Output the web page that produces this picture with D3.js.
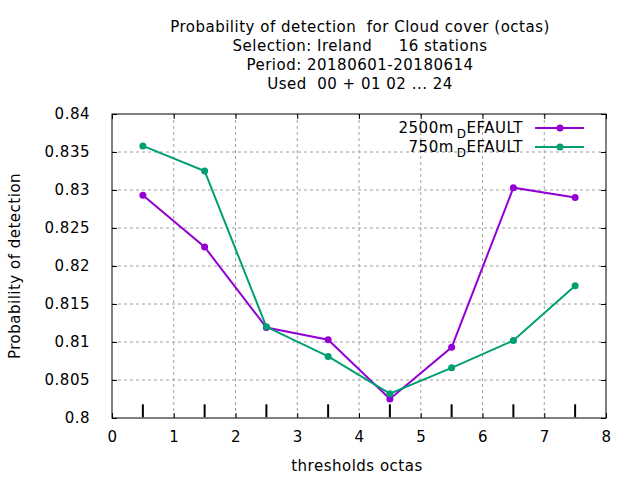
<!DOCTYPE html>
<html>
<head>
<meta charset="utf-8">
<script src="https://cdn.jsdelivr.net/npm/d3@7"></script>
<style>
  body { margin: 0; background: #fff; }
  text { font-family: "DejaVu Sans", sans-serif; font-size: 15px; letter-spacing: 0.5px; fill: #000; white-space: pre; }
</style>
</head>
<body>
<div id="chart"></div>
<script>
// values
var thresholds = [0.5, 1.5, 2.5, 3.5, 4.5, 5.5, 6.5, 7.5];
var pod2500 = [0.8293, 0.8225, 0.8119, 0.8103, 0.8025, 0.8093, 0.8303, 0.8290];
var pod750  = [0.8358, 0.8325, 0.8120, 0.8081, 0.8032, 0.8066, 0.8102, 0.8174];
// short black impulses at the bottom (base, top)
var impulseBase = 0.8001, impulseTop = 0.8018;

var xTicks = [0, 1, 2, 3, 4, 5, 6, 7, 8];
var yTicks = [0.8, 0.805, 0.81, 0.815, 0.82, 0.825, 0.83, 0.835, 0.84];
var titleLines = [
  "Probability of detection  for Cloud cover (octas)",
  "Selection: Ireland     16 stations",
  "Period: 20180601-20180614",
  "Used  00 + 01 02 ... 24"
];
var seriesNames = [["2500m", "D", "EFAULT"], ["750m", "D", "EFAULT"]];
var seriesColors = ["#9400d3", "#009e73"];

var width = 640, height = 480;
var mLeft = 112, mRight = 606, mTop = 114, mBottom = 418;

var x = d3.scaleLinear().domain([0, 8]).range([mLeft, mRight]);
var y = d3.scaleLinear().domain([0.8, 0.84]).range([mBottom, mTop]);

var svg = d3.select("#chart").append("svg")
    .attr("width", width).attr("height", height);

// grid, dotted grey like gnuplot
var grid = svg.append("g").attr("stroke", "#a0a0a0").attr("stroke-width", 1)
    .attr("stroke-dasharray", "3,3");
grid.selectAll("line.gx").data(xTicks.slice(1, -1)).enter().append("line")
    .attr("x1", x).attr("x2", x).attr("y1", mTop).attr("y2", mBottom);
grid.selectAll("line.gy").data(yTicks.slice(1, -1)).enter().append("line")
    .attr("x1", mLeft).attr("x2", mRight).attr("y1", y).attr("y2", y);

// axes with inward ticks, mirrored on the opposite sides
var fmt = function (d) { return String(+d.toFixed(3)); };
svg.append("g").attr("transform", "translate(0," + mBottom + ")")
    .call(d3.axisBottom(x).tickValues(xTicks).tickSize(-5).tickPadding(13).tickFormat(fmt));
svg.append("g").attr("transform", "translate(0," + mTop + ")")
    .call(d3.axisTop(x).tickValues(xTicks).tickSize(-5).tickFormat(""));
svg.append("g").attr("transform", "translate(" + mLeft + ",0)")
    .call(d3.axisLeft(y).tickValues(yTicks).tickSize(-5).tickPadding(22).tickFormat(fmt));
svg.append("g").attr("transform", "translate(" + mRight + ",0)")
    .call(d3.axisRight(y).tickValues(yTicks).tickSize(-5).tickFormat(""));
svg.selectAll(".domain").remove();
svg.selectAll(".tick line").attr("stroke", "#000");
svg.selectAll(".tick text").attr("font-family", null).attr("font-size", null);

// border
svg.append("rect").attr("x", mLeft).attr("y", mTop)
    .attr("width", mRight - mLeft).attr("height", mBottom - mTop)
    .attr("fill", "none").attr("stroke", "#000").attr("stroke-width", 1);

// impulses
svg.append("g").selectAll("line").data(thresholds).enter().append("line")
    .attr("x1", x).attr("x2", x)
    .attr("y1", y(impulseBase)).attr("y2", y(impulseTop))
    .attr("stroke", "#000").attr("stroke-width", 2);

// series
var line = d3.line().x(function (d) { return x(d[0]); }).y(function (d) { return y(d[1]); });
[pod2500, pod750].forEach(function (vals, i) {
  var pts = d3.zip(thresholds, vals);
  var g = svg.append("g");
  g.append("path").datum(pts).attr("d", line)
      .attr("fill", "none").attr("stroke", seriesColors[i]).attr("stroke-width", 2);
  g.selectAll("circle").data(pts).enter().append("circle")
      .attr("cx", function (d) { return x(d[0]); })
      .attr("cy", function (d) { return y(d[1]); })
      .attr("r", 3.5).attr("fill", seriesColors[i]);
});

// legend
seriesNames.forEach(function (name, i) {
  var ly = 128 + i * 19;
  var t = svg.append("text").attr("x", 523).attr("y", ly + 5).attr("text-anchor", "end");
  t.append("tspan").text(name[0]);
  t.append("tspan").attr("font-size", "12px").attr("dy", 5).attr("dx", 3).text(name[1]);
  t.append("tspan").attr("dy", -5).text(name[2]);
  svg.append("line").attr("x1", 535).attr("x2", 584).attr("y1", ly).attr("y2", ly)
      .attr("stroke", seriesColors[i]).attr("stroke-width", 2);
  svg.append("circle").attr("cx", 560).attr("cy", ly).attr("r", 3.5).attr("fill", seriesColors[i]);
});

// title
svg.append("g").selectAll("text").data(titleLines).enter().append("text")
    .attr("x", 360).attr("y", function (d, i) { return 32 + i * 19; })
    .attr("text-anchor", "middle").text(function (d) { return d; });

// axis labels
svg.append("text").attr("x", 357).attr("y", 471).attr("text-anchor", "middle")
    .text("thresholds octas");
svg.append("text").attr("transform", "translate(20,266) rotate(-90)")
    .attr("text-anchor", "middle").text("Probability of detection");
</script>
</body>
</html>
